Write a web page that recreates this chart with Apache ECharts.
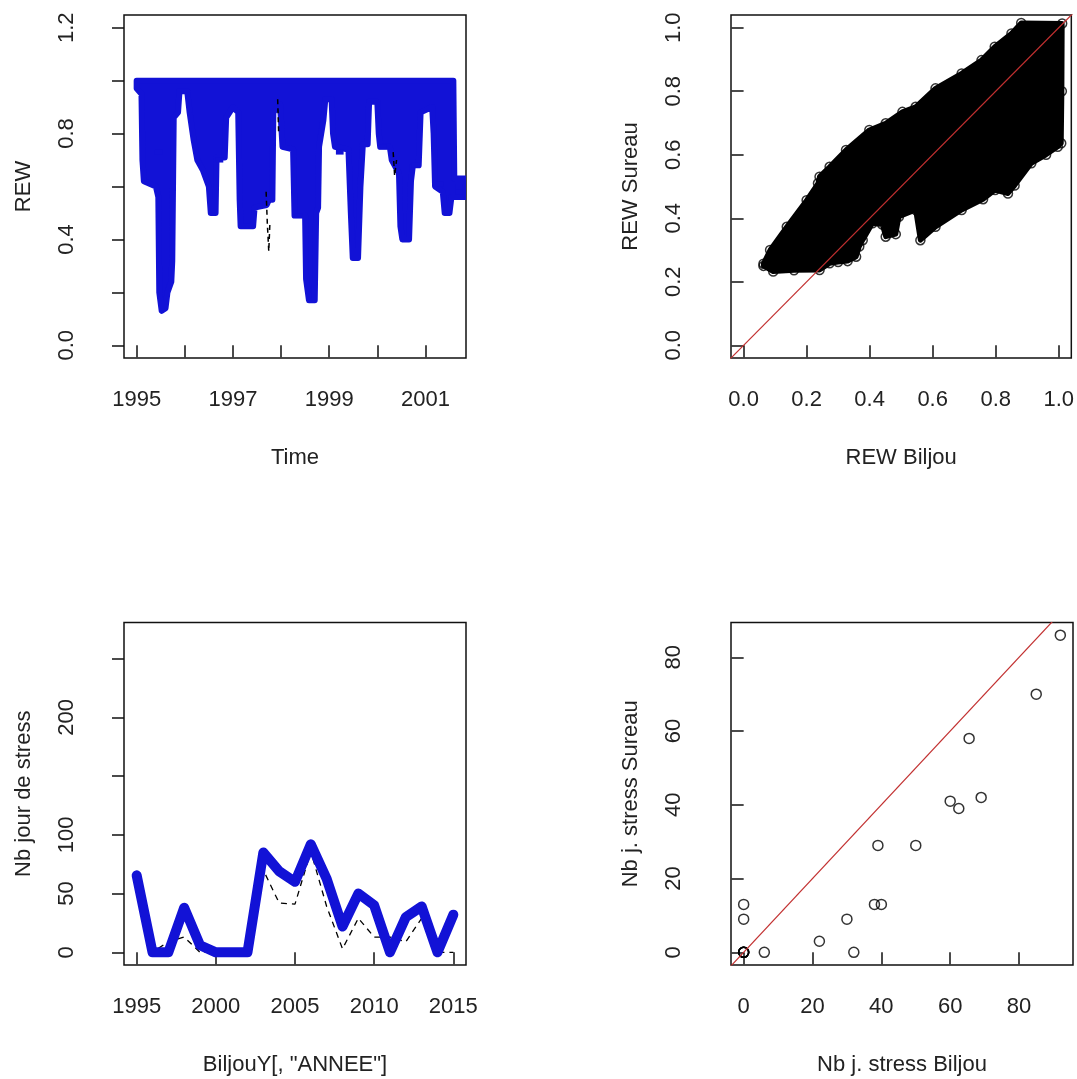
<!DOCTYPE html>
<html>
<head>
<meta charset="utf-8">
<script src="https://cdn.jsdelivr.net/npm/echarts@6/dist/echarts.min.js"></script>
<style>
html,body{margin:0;padding:0;background:#fff;}
#c{width:1077px;height:1079px;}
</style>
</head>
<body>
<div id="c"></div>
<script>
// ---------- Panel 1 : daily REW time series (envelope) ----------
const rewTopYears = [1995.0, 2001.58, 2001.60, 2001.90];
const rewTopVals  = [1.0,    1.0,     0.63,    0.63];
const rewLowYears = [1995.00,1995.10,1995.12,1995.15,1995.40,1995.45,1995.47,1995.52,1995.60,1995.64,1995.72,1995.74,1995.77,1995.86,1995.89,
  1996.05,1996.10,1996.18,1996.26,1996.38,1996.50,1996.54,1996.64,1996.66,1996.83,1996.86,1997.00,1997.11,1997.14,1997.16,1997.42,1997.45,
  1997.70,1997.75,1997.82,1997.84,1997.98,1998.03,1998.25,1998.28,1998.50,1998.52,1998.58,1998.70,1998.73,1998.77,1998.79,1998.88,1998.92,
  1999.05,1999.08,1999.12,1999.40,1999.45,1999.49,1999.60,1999.65,1999.70,1999.80,1999.83,2000.00,2000.03,2000.06,2000.26,2000.30,2000.45,
  2000.48,2000.52,2000.66,2000.70,2000.74,2000.86,2000.90,2001.14,2001.17,2001.20,2001.36,2001.40,2001.50,2001.54,2001.90];
const rewLowVals  = [0.97,0.95,0.70,0.62,0.60,0.56,0.20,0.13,0.14,0.20,0.24,0.32,0.86,0.88,0.96,
  0.96,0.88,0.78,0.70,0.66,0.60,0.50,0.50,0.71,0.71,0.86,0.90,0.88,0.55,0.45,0.45,0.52,
  0.53,0.55,0.55,0.88,0.91,0.75,0.74,0.49,0.49,0.25,0.17,0.17,0.50,0.52,0.75,0.85,0.93,
  0.93,0.80,0.75,0.74,0.50,0.33,0.33,0.60,0.76,0.76,0.92,0.92,0.80,0.75,0.75,0.70,0.65,
  0.45,0.40,0.40,0.62,0.68,0.68,0.88,0.90,0.80,0.60,0.58,0.50,0.50,0.56,0.56];
// short horizontal strokes of the thick line seen below the band
const rewMarkYears = [1995.46,1996.72,1998.36,1999.22,2000.12,2000.80,2001.30,2001.70,2001.70];
const rewMarkVals  = [0.73,0.70,0.49,0.73,0.75,0.68,0.61,0.60,0.58];
// visible pieces of the dashed (Sureau) series
const dashSeg1Years = [1997.69,1997.715,1997.745,1997.77];
const dashSeg1Vals  = [0.58,0.46,0.355,0.47];
const dashSeg2Years = [1997.93,1997.95];
const dashSeg2Vals  = [0.93,0.80];
const dashSeg3Years = [2000.33,2000.36,2000.40];
const dashSeg3Vals  = [0.73,0.64,0.70];

// ---------- Panel 2 : REW Sureau vs REW Biljou (outline of the dense cloud) ----------
const cloudX = [0.063,0.094,0.160,0.241,0.273,0.300,0.330,0.357,0.367,0.378,0.409,0.440,0.451,0.483,0.493,0.546,0.561,0.609,0.692,0.760,0.798,0.839,0.860,0.913,0.960,0.997,1.008,1.010,1.011,
  0.881,0.850,0.797,0.755,0.692,0.609,0.546,0.504,0.451,0.399,0.325,0.273,0.241,0.236,0.200,0.137,0.084,0.063];
const cloudY = [0.250,0.232,0.236,0.237,0.258,0.262,0.265,0.279,0.311,0.331,0.384,0.380,0.342,0.350,0.405,0.426,0.331,0.373,0.426,0.460,0.489,0.478,0.503,0.573,0.600,0.625,0.636,0.800,1.013,
  1.015,0.982,0.940,0.898,0.856,0.809,0.751,0.735,0.699,0.678,0.615,0.562,0.531,0.510,0.457,0.373,0.300,0.257];
const ablineIntercept = 0, ablineSlope = 1;

// ---------- Panels 3 & 4 : yearly number of stress days ----------
const years    = [1995,1996,1997,1998,1999,2000,2001,2002,2003,2004,2005,2006,2007,2008,2009,2010,2011,2012,2013,2014,2015];
const nbBiljou = [65.5,0,0,38,6,0,0,0,85,69,60,92,62.5,22,50,40,0,30,39,0,32];
const nbSureau = [58,0,9,13,0,0,0,0,70,42,41,86,39,3,29,13,13,9,29,0,0];

// ---------- tick labels ----------
const p1XTicks = [1995,1996,1997,1998,1999,2000,2001];
const p1XLabels = [1995,1997,1999,2001];
const p1YTicks = [0,0.2,0.4,0.6,0.8,1.0,1.2];
const p1YLabels = [0,0.4,0.8,1.2];
const p2Ticks = [0,0.2,0.4,0.6,0.8,1.0];
const p3XTicks = [1995,2000,2005,2010,2015];
const p3YTicks = [0,50,100,150,200,250];
const p3YLabels = [0,50,100,200];
const p4Ticks = [0,20,40,60,80];

const FONT = "'Liberation Sans', Arial, sans-serif";
const FS = 22;
const TXT = '#222';
const BLUE = '#1212d6';
const zip = (a,b) => a.map((v,i)=>[v,b[i]]);

function xAx(idx, min, max, ticks, labels, name, fmt){
  return {type:'value', gridIndex:idx, min, max, name, nameLocation:'middle', nameGap:89,
    nameTextStyle:{fontFamily:FONT,fontSize:FS,color:TXT},
    axisLine:{show:false}, splitLine:{show:false},
    axisTick:{show:true, inside:false, length:12, customValues:ticks, lineStyle:{color:'#111',width:1.5}},
    axisLabel:{show:true, margin:31, customValues:labels, fontFamily:FONT, fontSize:FS, color:TXT,
      formatter: fmt || (v=>String(v))}};
}
function yAx(idx, min, max, ticks, labels, name, fmt){
  return {type:'value', gridIndex:idx, min, max, name, nameLocation:'middle', nameGap:89, nameRotate:90,
    nameTextStyle:{fontFamily:FONT,fontSize:FS,color:TXT},
    axisLine:{show:false}, splitLine:{show:false},
    axisTick:{show:true, inside:false, length:12, customValues:ticks, lineStyle:{color:'#111',width:1.5}},
    axisLabel:{show:true, rotate:90, margin:46, customValues:labels, fontFamily:FONT, fontSize:FS, color:TXT,
      formatter: fmt || (v=>String(v))}};
}
const f1 = v => Number(v).toFixed(1);

function polygonSeries(xi, pts, style){
  return {type:'custom', xAxisIndex:xi, yAxisIndex:xi, clip:true, silent:true,
    data: pts,
    renderItem: (params, api) => {
      if (params.dataIndex !== 0) return null;
      return {type:'polygon', shape:{points: pts.map(p=>api.coord(p))}, style: style};
    }};
}
function hMarkSeries(xi, pts, halfWidthYears, color){
  return {type:'custom', xAxisIndex:xi, yAxisIndex:xi, clip:true, silent:true,
    data: pts,
    renderItem: (params, api) => {
      const x = api.value(0), y = api.value(1);
      const a = api.coord([x - halfWidthYears, y]), b = api.coord([x + halfWidthYears, y]);
      return {type:'line', shape:{x1:a[0], y1:a[1], x2:b[0], y2:b[1]}, style:{stroke:color, lineWidth:5}};
    }};
}

const p1Poly = zip(rewTopYears, rewTopVals).concat(zip(rewLowYears, rewLowVals).reverse());
const cloudPts = zip(cloudX, cloudY);
const ablineXs = [-10, 200];
const ablinePts = ablineXs.map(x => [x, ablineIntercept + ablineSlope*x]);

const gridStyle = {show:true, borderColor:'#111', borderWidth:1.5, backgroundColor:'transparent'};
const option = {
  animation:false,
  backgroundColor:'#fff',
  grid:[
    Object.assign({left:124, top:15, width:342, height:343}, gridStyle),
    Object.assign({left:731, top:15, width:343, height:343}, gridStyle),
    Object.assign({left:124, top:622.5, width:342, height:342.5}, gridStyle),
    Object.assign({left:731, top:622.5, width:342, height:342.5}, gridStyle)
  ],
  xAxis:[
    xAx(0, 1994.737, 2001.843, p1XTicks, p1XLabels, 'Time'),
    xAx(1, -0.04, 1.04, p2Ticks, p2Ticks, 'REW Biljou', f1),
    xAx(2, 1994.2, 2015.8, p3XTicks, p3XTicks, 'BiljouY[, "ANNEE"]'),
    xAx(3, -3.68, 95.68, p4Ticks, p4Ticks, 'Nb j. stress Biljou')
  ],
  yAxis:[
    yAx(0, -0.048, 1.248, p1YTicks, p1YLabels, 'REW', f1),
    yAx(1, -0.04, 1.04, p2Ticks, p2Ticks, 'REW Sureau', f1),
    yAx(2, -10.8, 280.8, p3YTicks, p3YLabels, 'Nb jour de stress'),
    yAx(3, -3.44, 89.44, p4Ticks, p4Ticks, 'Nb j. stress Sureau')
  ],
  series:[
    // panel 1
    polygonSeries(0, p1Poly, {fill:BLUE, stroke:BLUE, lineWidth:6, lineJoin:'round'}),
    hMarkSeries(0, zip(rewMarkYears, rewMarkVals), 0.08, BLUE),
    {type:'line', xAxisIndex:0, yAxisIndex:0, data:zip(dashSeg1Years,dashSeg1Vals), symbol:'none', lineStyle:{color:'#000',width:1.5,type:[5,4]}},
    {type:'line', xAxisIndex:0, yAxisIndex:0, data:zip(dashSeg2Years,dashSeg2Vals), symbol:'none', lineStyle:{color:'#000',width:1.5,type:[5,4]}},
    {type:'line', xAxisIndex:0, yAxisIndex:0, data:zip(dashSeg3Years,dashSeg3Vals), symbol:'none', lineStyle:{color:'#000',width:1.5,type:[5,4]}},
    // panel 2
    polygonSeries(1, cloudPts, {fill:'#000', stroke:'#000', lineWidth:5, lineJoin:'round'}),
    {type:'scatter', xAxisIndex:1, yAxisIndex:1, data:cloudPts, symbol:'circle', symbolSize:9,
      itemStyle:{color:'rgba(0,0,0,0)', borderColor:'#000', borderWidth:1.5}},
    {type:'line', xAxisIndex:1, yAxisIndex:1, data:ablinePts, symbol:'none', clip:true,
      lineStyle:{color:'#c23030', width:1.2}},
    // panel 3
    {type:'line', xAxisIndex:2, yAxisIndex:2, data:zip(years,nbSureau), symbol:'none',
      lineStyle:{color:'#000', width:1.3, type:[6,5]}},
    {type:'line', xAxisIndex:2, yAxisIndex:2, data:zip(years,nbBiljou), symbol:'none',
      lineStyle:{color:BLUE, width:10, cap:'round', join:'round'}},
    // panel 4
    {type:'scatter', xAxisIndex:3, yAxisIndex:3, data:zip(nbBiljou,nbSureau), symbol:'circle', symbolSize:10,
      itemStyle:{color:'rgba(0,0,0,0)', borderColor:'#000', borderWidth:1.5}},
    {type:'line', xAxisIndex:3, yAxisIndex:3, data:ablinePts, symbol:'none', clip:true,
      lineStyle:{color:'#c23030', width:1.2}}
  ]
};
const chart = echarts.init(document.getElementById('c'), null, {renderer:'canvas'});
chart.setOption(option);
</script>
</body>
</html>
